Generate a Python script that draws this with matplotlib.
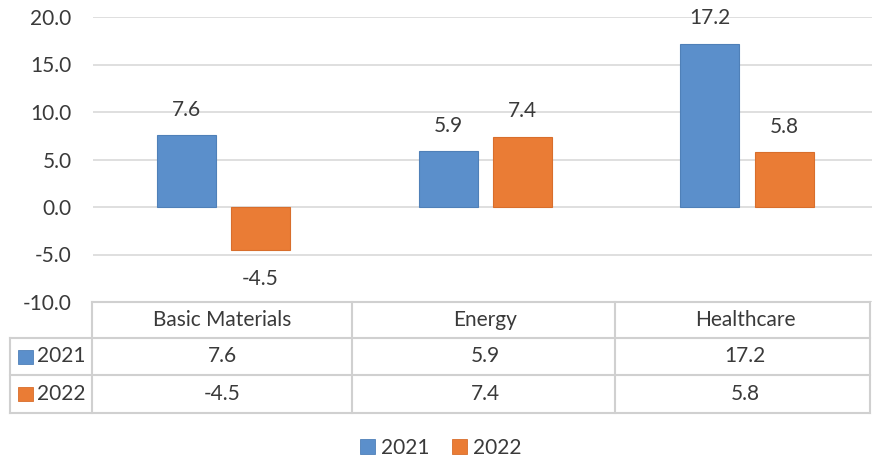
import matplotlib
matplotlib.use("Agg")
import matplotlib.pyplot as plt
from matplotlib.patches import Patch, Rectangle
from matplotlib.lines import Line2D
import numpy as np

categories = ["Basic Materials", "Energy", "Healthcare"]
series_names = ["2021", "2022"]
values_2021 = [7.6, 5.9, 17.2]
values_2022 = [-4.5, 7.4, 5.8]
y_ticks = [-10.0, -5.0, 0.0, 5.0, 10.0, 15.0, 20.0]

colors = ["#5B8FCB", "#EA7C35"]
edge_colors = ["#4F80B8", "#D86E2C"]
text_color = "#3A3A3A"
grid_color = "#D9D9D9"
table_color = "#D0D0D0"

plt.rcParams['font.family'] = ['Lato', 'DejaVu Sans']
FS = 15

W, H = 872, 458
fig = plt.figure(figsize=(W / 100, H / 100), dpi=100)

def fx(px):
    return px / W

def fy(py):
    return 1 - py / H

ax_left, ax_right, ax_top, ax_bot = 92.5, 878, 17, 302
ax = fig.add_axes([fx(ax_left), fy(ax_bot), fx(ax_right) - fx(ax_left), fy(ax_top) - fy(ax_bot)])

x = np.arange(len(categories)) + 0.5
width = 0.225
offset = 0.142
all_vals = [values_2021, values_2022]
for i, vals in enumerate(all_vals):
    pos = x + (-offset if i == 0 else offset)
    bars = ax.bar(pos, vals, width, color=colors[i], edgecolor=edge_colors[i], linewidth=0.8, zorder=3)
    for b, v in zip(bars, vals):
        cx = b.get_x() + b.get_width() / 2
        if v >= 0:
            ax.annotate(f"{v:.1f}", (cx, v), xytext=(0, 11), textcoords="offset points",
                        ha="center", va="bottom", fontsize=FS, color=text_color)
        else:
            ax.annotate(f"{v:.1f}", (cx, v), xytext=(0, -14), textcoords="offset points",
                        ha="center", va="top", fontsize=FS, color=text_color)

ax.set_xlim(0, len(categories))
ax.set_ylim(y_ticks[0], y_ticks[-1])
ax.set_yticks(y_ticks)
ax.set_yticklabels([f"{t:.1f}" for t in y_ticks])
ax.set_xticks([])
ax.tick_params(axis="y", length=0, pad=15, labelsize=FS, labelcolor=text_color)
for s in ax.spines.values():
    s.set_visible(False)
ax.yaxis.grid(True, color=grid_color, linewidth=1.2, zorder=0)
ax.set_axisbelow(True)

# Data table
row_lines = [302, 338, 375, 413]
col_lines = [10, 92, 352, 615, 870]
lw = 1.5
def hline(y, x0, x1):
    fig.add_artist(Line2D([fx(x0), fx(x1)], [fy(y), fy(y)], color=table_color, lw=lw))
def vline(xp, y0, y1):
    fig.add_artist(Line2D([fx(xp), fx(xp)], [fy(y0), fy(y1)], color=table_color, lw=lw))

hline(row_lines[0], col_lines[1], col_lines[-1])
for r in row_lines[1:]:
    hline(r, col_lines[0], col_lines[-1])
vline(col_lines[0], row_lines[1], row_lines[-1])
for c in col_lines[1:]:
    vline(c, row_lines[0], row_lines[-1])

cat_centers = [222, 485, 745]
for j, cat in enumerate(categories):
    cx = cat_centers[j]
    fig.text(fx(cx), fy((row_lines[0] + row_lines[1]) / 2), cat, ha="center", va="center",
             fontsize=FS, color=text_color)
    for i, vals in enumerate(all_vals):
        fig.text(fx(cx), fy((row_lines[i + 1] + row_lines[i + 2]) / 2), f"{vals[j]:.1f}",
                 ha="center", va="center", fontsize=FS, color=text_color)

for i, name in enumerate(series_names):
    cy = (row_lines[i + 1] + row_lines[i + 2]) / 2
    fig.add_artist(Rectangle((fx(18), fy(cy + 7)), fx(15), 14 / H, facecolor=colors[i],
                             edgecolor=edge_colors[i], lw=0.6, transform=fig.transFigure))
    fig.text(fx(37), fy(cy), name, ha="left", va="center", fontsize=FS, color=text_color)

handles = [Patch(facecolor=colors[i], edgecolor=edge_colors[i], linewidth=0.6) for i in range(2)]
fig.legend(handles, series_names, loc="center", bbox_to_anchor=(fx(441), fy(448)), ncol=2,
           frameon=False, fontsize=FS, handlelength=0.7, handleheight=0.7,
           handletextpad=0.3, columnspacing=1.1, labelcolor=text_color)

fig.savefig("out.png", dpi=100)
